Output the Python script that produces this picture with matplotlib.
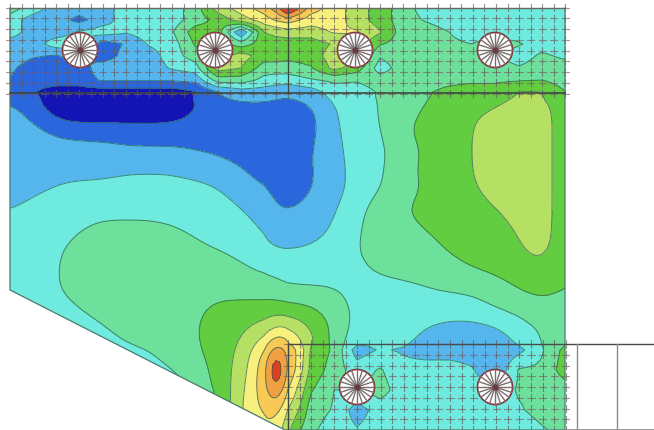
import matplotlib
matplotlib.use('Agg')
import matplotlib.pyplot as plt
from matplotlib.patches import Polygon, Circle

import numpy as np

# Field nodes, in picture pixels.
x_nodes = [10, 33, 56, 79, 102, 126, 149, 172, 195, 218, 241, 264, 276, 288, 311, 334, 357, 380, 403, 426, 449, 472, 495, 519, 542, 565]
y_nodes = [8, 20, 32, 44, 56, 68, 80, 92, 110, 130, 150, 170, 190, 210, 230, 250, 270, 290, 310, 330, 350, 370, 390, 410, 430]

# Band value read at each node (one row per y node).
field = [
    [4, 3, 2, 2, 2, 3, 3, 3, 4, 6, 7, 8, 9, 11, 8, 7, 6, 5, 4, 3, 3, 3, 3, 3, 3, 3],
    [3, 2, 2, 1.2, 2, 3, 3, 3, 4, 4.8, 6, 7, 7.6, 8, 7, 7, 6, 5, 4, 3.4, 3, 3, 3, 3, 3, 3],
    [3, 2, 2, 2.6, 3, 2.6, 3, 3.4, 5, 5, 1.5, 5.5, 5.8, 6, 6, 6.6, 6.6, 5.6, 4, 4, 3.5, 3, 3, 3, 3, 3],
    [2, 2, 3, 3, 1, 1.6, 2.6, 3, 4.6, 5, 4, 5, 5, 5, 5, 5.6, 6, 4.6, 4, 4, 3.7, 3.5, 4, 3.6, 3, 3],
    [2, 1.6, 1.4, 2, 1, 1.8, 2, 3, 4, 5, 6, 5, 5, 4.8, 5, 6, 6, 3.6, 4, 4, 4, 4, 3.6, 3, 3.7, 3.3],
    [1.7, 1, 1, 1, 2, 2, 2, 2.6, 3, 6, 5.5, 4, 4, 4, 4.4, 5.8, 5, 3, 4, 4, 4, 4, 4, 3.6, 4, 4],
    [1.4, 1, 1, 1, 1.6, 1.6, 1.6, 1.6, 1.8, 4, 4, 3.2, 3, 3, 3.4, 3.7, 3.6, 4, 4, 4, 4.2, 4.3, 4.3, 4.4, 4.5, 4],
    [1, 0.5, 0, 0, 0, 0, 0, 0, 0.3, 1.4, 2, 2, 1.8, 1.6, 2, 3, 3, 3.6, 4, 4.4, 4.8, 5, 5, 5.6, 5.6, 4.5],
    [2, 1, -0.4, -0.4, -0.4, -0.4, -0.4, -0.4, 0.5, 1, 1, 1, 1, 1, 1, 2.6, 3, 3.6, 4, 4.6, 5, 5.4, 5.5, 6, 6.3, 4.6],
    [2, 2, 1.3, 1, 1, 1, 1, 1, 1, 1, 1, 1, 1, 1, 1, 2.4, 3, 3.4, 4.4, 5, 5, 5.5, 6, 6, 6.3, 4.6],
    [2, 2, 2, 2, 2, 1.6, 1.6, 1.6, 1.5, 1.3, 1, 1, 1, 1, 1.4, 2.2, 3, 3.2, 4, 4.6, 5, 5.5, 6, 6, 6.3, 4.6],
    [2, 2, 2, 2, 2, 2.4, 2.4, 2.4, 2, 2, 1.6, 1, 1, 1, 1.4, 2, 3, 3.4, 4, 5, 5, 5.5, 6, 6, 6.3, 4.6],
    [2, 2.2, 2.7, 3, 3, 3, 3, 3, 3, 2.6, 2, 1.6, 1.3, 1, 1.4, 2, 3, 3.4, 4, 4.6, 5, 5.3, 6, 6, 6.3, 4.6],
    [2.4, 3, 3, 3, 3, 3, 3, 3, 3, 3, 2.6, 2, 1.6, 1.4, 1.8, 2.4, 3.3, 4, 4.5, 5, 5, 5, 5.4, 6, 6.3, 4.6],
    [3, 3, 3, 3.4, 4, 4, 4, 3.7, 3.3, 3, 3, 2.4, 2.2, 2, 2, 2.6, 3.4, 4, 4, 4.5, 5, 5, 5, 5.6, 6.3, 4.6],
    [3, 3, 3.3, 4, 4, 4, 4, 4, 3.8, 3.5, 3.2, 2.6, 2.5, 2.5, 2.7, 3, 3.5, 4, 4, 4, 4.6, 5, 5, 5.2, 6.2, 4.6],
    [3, 3, 3.4, 4, 4, 4, 4, 4, 4, 4, 3.8, 3.4, 3.2, 3, 3, 3, 3.2, 3.7, 4, 4, 4, 4.5, 4.7, 5, 5.3, 4.5],
    [3, 3, 3.4, 4, 4, 4, 4, 4, 4, 4, 4, 4, 4, 3.6, 3.6, 3.6, 3.2, 3, 3, 3.4, 3.6, 3.6, 4, 4.5, 5, 4.4],
    [3, 3, 3, 3.4, 4, 4, 4, 4, 4.2, 5, 5, 5, 5, 5, 4.8, 4, 3.2, 3, 3, 3, 3, 3, 3.6, 3.7, 4, 4],
    [3, 3, 3, 3, 3.2, 4, 4, 4, 4.4, 5, 5.2, 6, 6.8, 6.8, 5.5, 4.4, 3, 3, 3, 2.4, 2, 2, 2, 3.2, 3.6, 4],
    [3, 3, 3, 3, 3, 3.2, 3.5, 4, 4.3, 5, 5.5, 7.8, 9.2, 8.9, 5.4, 4.3, 2, 2.6, 2.4, 2, 2, 2, 1.7, 2.2, 3.4, 4.8],
    [3, 3, 3, 3, 3, 3, 3, 3.5, 3.8, 5, 5.7, 8.2, 11.6, 8.7, 5.2, 4, 3, 3.6, 2.8, 3, 3, 2.6, 1.5, 3.6, 3.7, 5],
    [3, 3, 3, 3, 3, 3, 3, 3, 3.7, 4.7, 6.1, 8.2, 9.8, 7.6, 4.6, 3.5, 3.5, 3.9, 3, 3, 3, 3, 3, 3.6, 3.7, 4],
    [3, 3, 3, 3, 3, 3, 3, 3, 3.5, 4, 6.8, 7.8, 7.8, 6.8, 4, 3.4, 2, 3, 3, 3, 3, 3, 3, 3.4, 3.8, 4],
    [3, 3, 3, 3, 3, 3, 3, 3, 3.5, 4, 6.6, 7.2, 7.2, 5.5, 3.7, 3, 2.6, 3, 3, 3, 3, 3, 3, 3, 3.4, 3.8],
]

band_levels = [-0.5, 0.5, 1.5, 2.5, 3.5, 4.5, 5.5, 6.5, 7.5, 8.5, 9.5, 13]
band_colors = ['#1414b4', '#2a66dc', '#55b6ee', '#6eeadf', '#6de09c', '#62cd40',
               '#b5e063', '#f8f07c', '#f8c955', '#f0a040', '#e04020']

outline = [(10, 8), (565, 8), (565, 430), (285, 430), (10, 290)]
hole_centers = [(80, 50), (215, 50), (355, 50), (495, 50), (357, 387), (495, 387)]
hole_radius = 17.5
n_spokes = 20


def refine(xn, yn, z, factor=4):
    # Linear upsampling, then a short box pass outside the meshed strips only:
    # the bands are round in the plate and jagged where the mesh is dense.
    z = np.asarray(z, dtype=float)
    i_fine = np.linspace(0, len(xn) - 1, factor * (len(xn) - 1) + 1)
    j_fine = np.linspace(0, len(yn) - 1, factor * (len(yn) - 1) + 1)
    xf = np.interp(i_fine, np.arange(len(xn)), xn)
    yf = np.interp(j_fine, np.arange(len(yn)), yn)
    raw = np.array([np.interp(i_fine, np.arange(len(xn)), row) for row in z])
    raw = np.array([np.interp(j_fine, np.arange(len(yn)), col) for col in raw.T]).T
    kernel = np.ones(factor + 1) / (factor + 1)
    pad = factor // 2
    zf = raw
    for _ in range(2):
        zf = np.pad(zf, pad, mode='edge')
        zf = np.apply_along_axis(lambda r: np.convolve(r, kernel, mode='same'), 0, zf)
        zf = np.apply_along_axis(lambda r: np.convolve(r, kernel, mode='same'), 1, zf)
        zf = zf[pad:-pad, pad:-pad]
    xg, yg = np.meshgrid(xf, yf)
    top = np.clip((100 - yg) / 12, 0, 1)
    bottom = np.clip((xg - 290) / 10, 0, 1) * np.clip((yg - 338) / 12, 0, 1)
    keep_raw = np.maximum(top, bottom)
    return xf, yf, keep_raw * raw + (1 - keep_raw) * zf


fig = plt.figure(figsize=(6.54, 4.30), dpi=100)
ax = fig.add_axes([0, 0, 1, 1])
ax.set_xlim(0, 654)
ax.set_ylim(430, 0)
ax.axis('off')

# Stress bands.
clip = Polygon(outline, closed=True, transform=ax.transData, facecolor='none', edgecolor='none')
ax.add_patch(clip)
xf, yf, zf = refine(x_nodes, y_nodes, field)
filled = ax.contourf(xf, yf, zf, levels=band_levels, colors=band_colors, extend='min')
lines = ax.contour(xf, yf, zf, levels=band_levels[1:-1], colors='#2c6458', linewidths=0.7, alpha=0.75)
filled.set_clip_path(clip)
lines.set_clip_path(clip)


# Mesh crosses over the two reinforced strips.
def draw_crosses(xs, ys):
    for y in ys:
        for x in xs:
            if any(np.hypot(x - cx, y - cy) < hole_radius for cx, cy in hole_centers):
                continue
            ax.plot([x - 3.6, x + 3.6], [y, y], color='#84585c', lw=0.8, alpha=0.65, zorder=4)
            ax.plot([x, x], [y - 3.6, y + 3.6], color='#5a5a5a', lw=0.8, alpha=0.65, zorder=4)


draw_crosses(np.arange(10, 570, 11.57), np.arange(7.5, 95, 10.75))
draw_crosses(np.arange(288, 570, 11.57), np.arange(344, 431, 10.75))

# Outline and section lines.
ax.plot([10, 10, 285, 565, 565], [8, 290, 430, 430, 8], color='#4a7a70', lw=0.9, zorder=5)
ax.plot([10, 565], [8, 8], color='#6a6a60', lw=1.0, zorder=5)
ax.plot([10, 565], [93, 93], color='#3a4a40', lw=1.2, zorder=5)
ax.plot([288, 288], [8, 93], color='#3a4a40', lw=0.9, zorder=5)
ax.plot([288, 288], [344, 430], color='#3a4a40', lw=1.0, zorder=5)
ax.plot([288, 654], [344, 344], color='#4a4a4a', lw=1.0, zorder=5)
ax.plot([565, 654], [430, 430], color='#8a8a8a', lw=1.2, zorder=5)
ax.plot([577, 577], [344, 430], color='#8a8a8a', lw=1.0, zorder=5)
ax.plot([617, 617], [344, 430], color='#8a8a8a', lw=1.0, zorder=5)

# Bolt holes with their spokes.
for cx, cy in hole_centers:
    ax.add_patch(Circle((cx, cy), hole_radius, facecolor='white', edgecolor='#84343c', lw=1.2, zorder=6))
    angles = np.linspace(0, 2 * np.pi, n_spokes, endpoint=False)
    for a in angles:
        ax.plot([cx, cx + hole_radius * np.cos(a)], [cy, cy + hole_radius * np.sin(a)],
                color='#7a7070', lw=1.0, zorder=7)
    ax.plot([cx], [cy], 'o', ms=3.5, color='#6a3a40', zorder=8)

fig.savefig('out.png', dpi=100)
